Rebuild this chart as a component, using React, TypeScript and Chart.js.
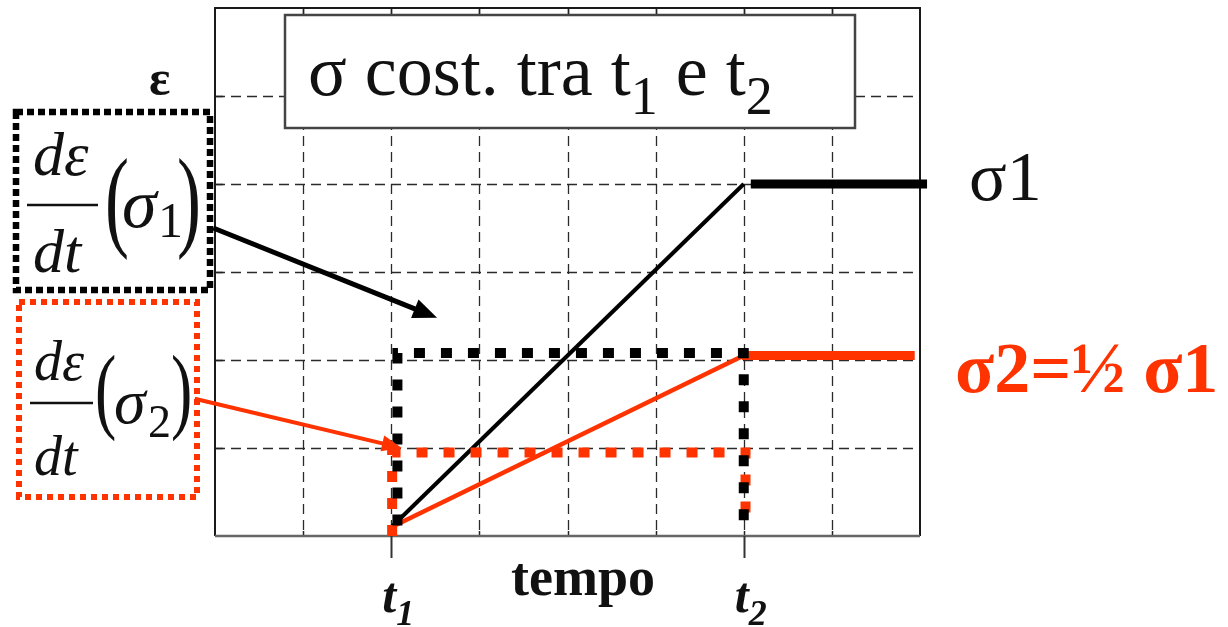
import React, { useEffect, useRef } from "react";
import { Chart, registerables } from "chart.js";

Chart.register(...registerables);

// ---- data (axis units: x = time grid units, y = strain grid units) ----
const xGrid = [1, 2, 3, 4, 5, 6, 7];
const yGrid = [1, 2, 3, 4, 5];
const t1 = 2;
const t2 = 6;
const sigma1Ramp = [{ x: 2, y: 0.1 }, { x: 6, y: 4 }];
const sigma1Hold = [{ x: 6.08, y: 4 }, { x: 8.08, y: 4 }];
const sigma2Ramp = [{ x: 2, y: 0.1 }, { x: 6, y: 2.05 }];
const sigma2Hold = [{ x: 5.98, y: 2.05 }, { x: 7.94, y: 2.05 }];
const rate1Path = [{ x: 2.07, y: 0.12 }, { x: 2.07, y: 2.08 }, { x: 6, y: 2.08 }, { x: 6, y: 0.18 }];
const rate2Path = [{ x: 2.01, y: 0 }, { x: 2.01, y: 0.95 }, { x: 6.02, y: 0.95 }, { x: 6.02, y: 0.1 }];
const arrow1 = [{ x: -0.02, y: 3.5 }, { x: 2.52, y: 2.48 }];
const arrow2 = [{ x: -0.23, y: 1.56 }, { x: 2.12, y: 1.0 }];

const RED = "#ff3300";
const SERIF = "'Liberation Serif', 'DejaVu Serif', serif";

function drawArrow(ctx: CanvasRenderingContext2D, x1: number, y1: number, x2: number, y2: number, w: number, hl: number, hw: number, color: string) {
  const a = Math.atan2(y2 - y1, x2 - x1);
  const bx = x2 - hl * Math.cos(a);
  const by = y2 - hl * Math.sin(a);
  ctx.save();
  ctx.strokeStyle = color;
  ctx.fillStyle = color;
  ctx.lineWidth = w;
  ctx.setLineDash([]);
  ctx.beginPath();
  ctx.moveTo(x1, y1);
  ctx.lineTo(bx + 2 * Math.cos(a), by + 2 * Math.sin(a));
  ctx.stroke();
  ctx.beginPath();
  ctx.moveTo(x2, y2);
  ctx.lineTo(bx + (hw / 2) * Math.sin(a), by - (hw / 2) * Math.cos(a));
  ctx.lineTo(bx - (hw / 2) * Math.sin(a), by + (hw / 2) * Math.cos(a));
  ctx.closePath();
  ctx.fill();
  ctx.restore();
}

type F = {
  numX: number; numBase: number; numSize: number;
  lineX1: number; lineX2: number; lineY: number;
  denBase: number;
  parenL: number; parenR: number; parenSize: number; parenScale: number; parenBase: number;
  sigX: number; sigBase: number; sigSize: number;
  sub: string; subX: number; subBase: number; subSize: number;
};

function drawFormula(ctx: CanvasRenderingContext2D, f: F) {
  ctx.save();
  ctx.fillStyle = "#111";
  ctx.textBaseline = "alphabetic";
  ctx.textAlign = "left";
  ctx.font = `italic ${f.numSize}px ${SERIF}`;
  ctx.fillText("dε", f.numX, f.numBase);
  ctx.fillText("dt", f.numX, f.denBase);
  ctx.strokeStyle = "#111";
  ctx.lineWidth = 2.5;
  ctx.setLineDash([]);
  ctx.beginPath();
  ctx.moveTo(f.lineX1, f.lineY);
  ctx.lineTo(f.lineX2, f.lineY);
  ctx.stroke();
  ctx.font = `${f.parenSize}px ${SERIF}`;
  [["(", f.parenL], [")", f.parenR]].forEach(([ch, px]) => {
    ctx.save();
    ctx.translate(px as number, f.parenBase);
    ctx.scale(1, f.parenScale);
    ctx.fillText(ch as string, 0, 0);
    ctx.restore();
  });
  ctx.font = `italic ${f.sigSize}px ${SERIF}`;
  ctx.fillText("σ", f.sigX, f.sigBase);
  ctx.font = `${f.subSize}px ${SERIF}`;
  ctx.fillText(f.sub, f.subX, f.subBase);
  ctx.restore();
}

function dottedRect(ctx: CanvasRenderingContext2D, x: number, y: number, w: number, h: number, color: string, dash: number[], lw: number) {
  ctx.save();
  ctx.strokeStyle = color;
  ctx.lineWidth = lw;
  ctx.setLineDash(dash);
  ctx.lineCap = "butt";
  ctx.strokeRect(x, y, w, h);
  ctx.restore();
}

const backgroundPlugin = {
  id: "frameGrid",
  beforeDatasetsDraw(chart: any) {
    const { ctx, chartArea: a, scales } = chart;
    const xs = scales.x;
    const ys = scales.y;
    ctx.save();
    // grid
    ctx.strokeStyle = "#2a2a2a";
    ctx.lineWidth = 1.3;
    ctx.setLineDash([10, 6]);
    xGrid.forEach((v) => {
      const px = Math.round(xs.getPixelForValue(v)) + 0.5;
      ctx.beginPath();
      ctx.moveTo(px, a.top);
      ctx.lineTo(px, a.bottom);
      ctx.stroke();
    });
    yGrid.forEach((v) => {
      const py = Math.round(ys.getPixelForValue(v)) + 0.5;
      ctx.beginPath();
      ctx.moveTo(a.left, py);
      ctx.lineTo(a.right, py);
      ctx.stroke();
    });
    ctx.setLineDash([]);
    // inner ticks
    ctx.lineWidth = 1.5;
    ctx.strokeStyle = "#222";
    xGrid.forEach((v) => {
      const px = Math.round(xs.getPixelForValue(v)) + 0.5;
      ctx.beginPath();
      ctx.moveTo(px, a.top);
      ctx.lineTo(px, a.top + 8);
      ctx.moveTo(px, a.bottom);
      ctx.lineTo(px, a.bottom - 5);
      ctx.stroke();
    });
    yGrid.forEach((v) => {
      const py = Math.round(ys.getPixelForValue(v)) + 0.5;
      ctx.beginPath();
      ctx.moveTo(a.left, py);
      ctx.lineTo(a.left + 8, py);
      ctx.stroke();
    });
    // frame
    ctx.strokeStyle = "#1a1a1a";
    ctx.lineWidth = 2;
    ctx.beginPath();
    ctx.moveTo(a.left, a.bottom);
    ctx.lineTo(a.left, a.top);
    ctx.lineTo(a.right, a.top);
    ctx.lineTo(a.right, a.bottom);
    ctx.stroke();
    ctx.strokeStyle = "#666";
    ctx.lineWidth = 2.5;
    ctx.beginPath();
    ctx.moveTo(a.left, a.bottom);
    ctx.lineTo(a.right, a.bottom);
    ctx.stroke();
    // t1/t2 outer ticks
    ctx.strokeStyle = "#333";
    ctx.lineWidth = 2;
    [t1, t2].forEach((v) => {
      const px = Math.round(xs.getPixelForValue(v)) + 0.5;
      ctx.beginPath();
      ctx.moveTo(px, a.bottom);
      ctx.lineTo(px, a.bottom + 22);
      ctx.stroke();
    });
    // title box
    ctx.fillStyle = "#fff";
    ctx.fillRect(285, 15, 570, 113);
    ctx.strokeStyle = "#444";
    ctx.lineWidth = 2.5;
    ctx.strokeRect(285, 15, 570, 113);
    ctx.fillStyle = "#111";
    ctx.textAlign = "left";
    ctx.textBaseline = "alphabetic";
    let x = 308;
    ctx.font = `72px ${SERIF}`;
    const p1 = "σ cost. tra t";
    ctx.fillText(p1, x, 95);
    x += ctx.measureText(p1).width;
    ctx.font = `54px ${SERIF}`;
    ctx.fillText("1", x, 114);
    x += ctx.measureText("1").width;
    ctx.font = `72px ${SERIF}`;
    const p2 = " e t";
    ctx.fillText(p2, x, 95);
    x += ctx.measureText(p2).width;
    ctx.font = `54px ${SERIF}`;
    ctx.fillText("2", x, 114);
    ctx.restore();
  },
  afterDraw(chart: any) {
    const { ctx, scales } = chart;
    const xs = scales.x;
    const ys = scales.y;
    ctx.save();
    ctx.textAlign = "left";
    ctx.textBaseline = "alphabetic";
    // epsilon label
    ctx.fillStyle = "#111";
    ctx.font = `bold 50px ${SERIF}`;
    ctx.fillText("ε", 149, 95);
    // axis labels
    ctx.font = `bold 54px ${SERIF}`;
    ctx.fillText("tempo", 511, 595);
    [[t1, "1"], [t2, "2"]].forEach(([v, s]) => {
      const px = xs.getPixelForValue(v as number);
      ctx.font = `italic bold 50px ${SERIF}`;
      ctx.fillText("t", px - 9, 612);
      const w = ctx.measureText("t").width;
      ctx.font = `italic bold 36px ${SERIF}`;
      ctx.fillText(s as string, px - 9 + w, 625);
    });
    // series labels
    ctx.font = `70px ${SERIF}`;
    ctx.fillStyle = "#111";
    ctx.fillText("σ1", 969, 200);
    ctx.font = `bold 72px ${SERIF}`;
    ctx.fillStyle = RED;
    ctx.fillText("σ2=½ σ1", 955, 392);
    // dotted boxes
    dottedRect(ctx, 16, 112, 194, 178, "#000", [7, 4], 6.5);
    dottedRect(ctx, 19, 302, 178, 195, RED, [6, 5], 6);
    drawFormula(ctx, {
      numX: 33, numBase: 175, numSize: 62,
      lineX1: 27, lineX2: 98, lineY: 205,
      denBase: 272,
      parenL: 105, parenR: 177, parenSize: 72, parenScale: 1.55, parenBase: 236,
      sigX: 122, sigBase: 227, sigSize: 70,
      sub: "1", subX: 158, subBase: 237, subSize: 50,
    });
    drawFormula(ctx, {
      numX: 34, numBase: 380, numSize: 56,
      lineX1: 30, lineX2: 93, lineY: 403,
      denBase: 475,
      parenL: 95, parenR: 171, parenSize: 64, parenScale: 1.5, parenBase: 421,
      sigX: 114, sigBase: 423, sigSize: 64,
      sub: "2", subX: 148, subBase: 437, subSize: 46,
    });
    // arrows
    drawArrow(ctx, xs.getPixelForValue(arrow1[0].x), ys.getPixelForValue(arrow1[0].y),
      xs.getPixelForValue(arrow1[1].x), ys.getPixelForValue(arrow1[1].y), 5, 24, 20, "#000");
    drawArrow(ctx, xs.getPixelForValue(arrow2[0].x), ys.getPixelForValue(arrow2[0].y),
      xs.getPixelForValue(arrow2[1].x), ys.getPixelForValue(arrow2[1].y), 4, 20, 16, RED);
    ctx.restore();
  },
};

export default function App() {
  const ref = useRef<HTMLCanvasElement>(null);
  useEffect(() => {
    const line = (data: any[], color: string, width: number, dash: number[] = []) => ({
      data,
      borderColor: color,
      backgroundColor: color,
      borderWidth: width,
      borderDash: dash,
      borderCapStyle: "butt" as const,
      borderJoinStyle: "miter" as const,
      pointRadius: 0,
      tension: 0,
      fill: false,
      clip: false as any,
    });
    const chart = new Chart(ref.current!, {
      type: "line",
      data: {
        datasets: [
          line(rate1Path, "#000", 10, [11, 16]),
          line(rate2Path, RED, 10, [11, 16]),
          line(sigma1Ramp, "#000", 4),
          line(sigma1Hold, "#000", 9),
          line(sigma2Ramp, RED, 4.5),
          line(sigma2Hold, RED, 9),
        ],
      },
      options: {
        animation: false,
        responsive: false,
        devicePixelRatio: 1,
        layout: { padding: { left: 215, right: 308, top: 8, bottom: 91 } },
        scales: {
          x: { type: "linear", min: 0, max: 8, display: false },
          y: { type: "linear", min: 0, max: 6, display: false },
        },
        plugins: { legend: { display: false }, tooltip: { enabled: false } },
      },
      plugins: [backgroundPlugin],
    });
    return () => chart.destroy();
  }, []);
  return (
    <div style={{ position: "absolute", left: 0, top: 0, width: 1228, height: 627, background: "#fff" }}>
      <canvas ref={ref} width={1228} height={627} style={{ display: "block", width: 1228, height: 627 }} />
    </div>
  );
}
